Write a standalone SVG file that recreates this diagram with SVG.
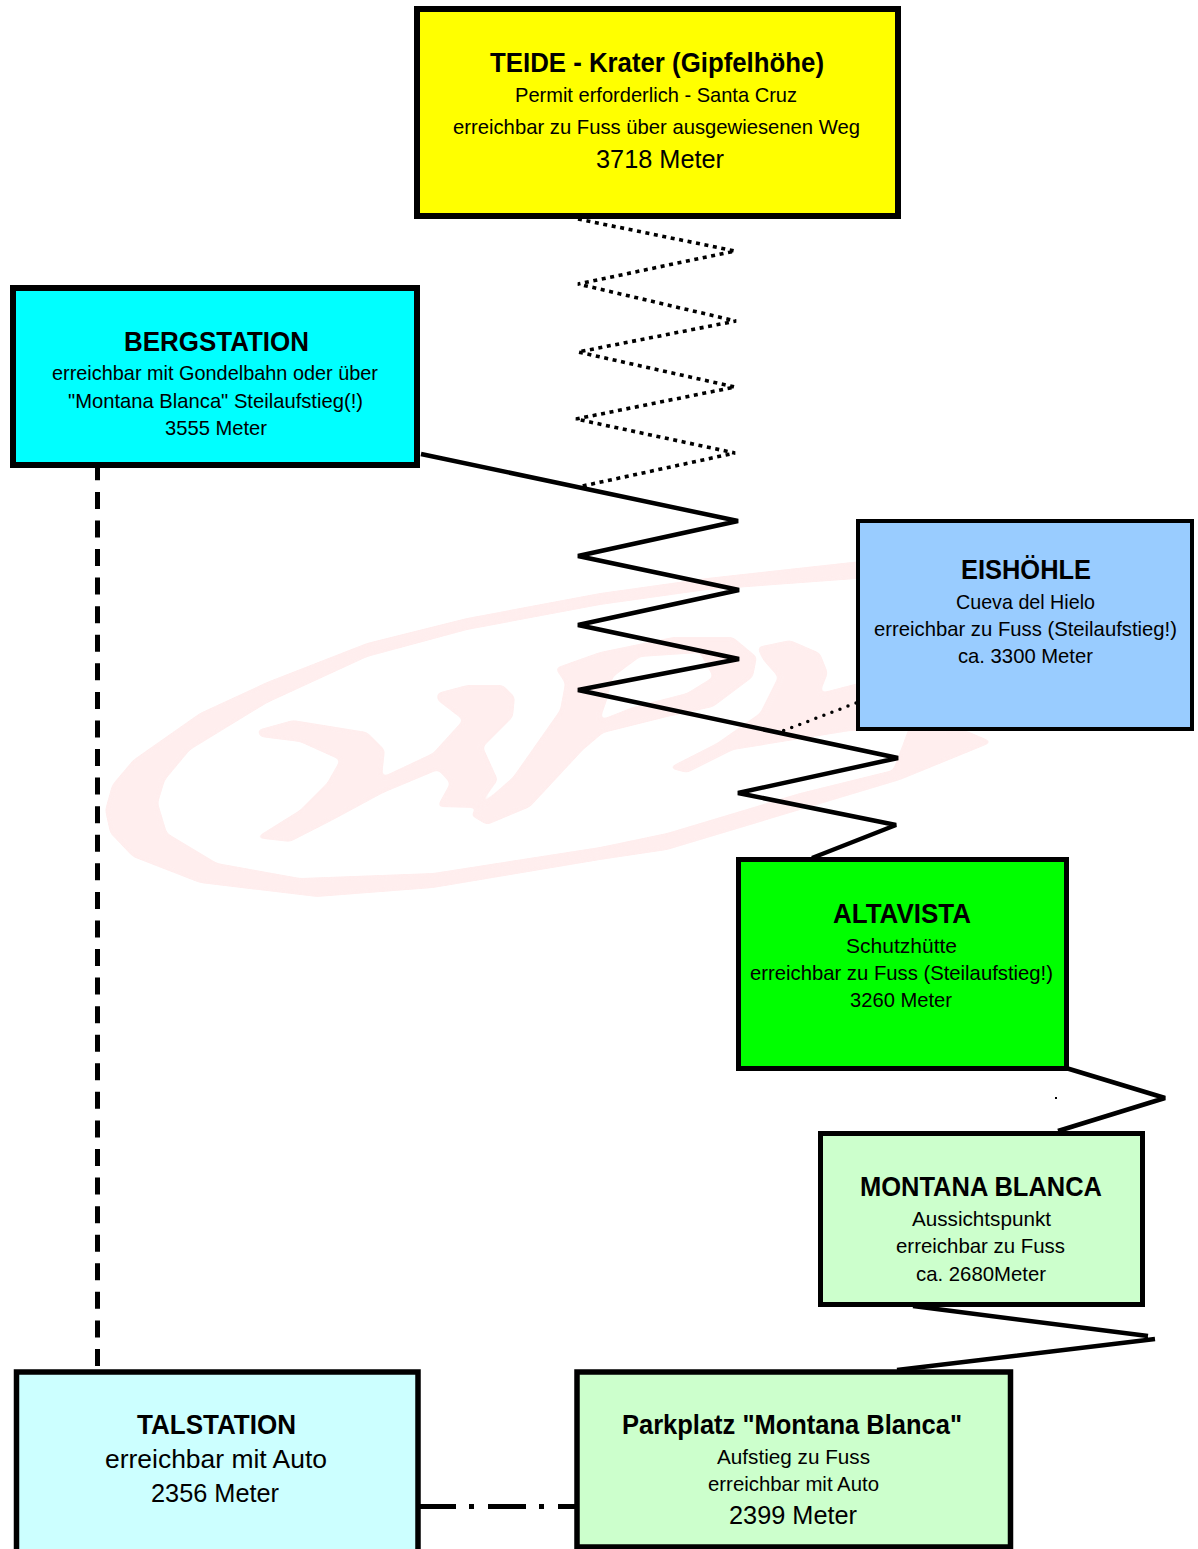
<svg xmlns="http://www.w3.org/2000/svg" width="1198" height="1549" viewBox="0 0 1198 1549">
<style>
text{font-family:"Liberation Sans",Arial,sans-serif;fill:#000}
.t{font-weight:bold;font-size:27px}
.s{font-size:21px}
.l{font-size:26px}
.box{stroke:#000}
.line{fill:none;stroke:#000;stroke-linejoin:bevel}
.wm{fill:#ffeeee}
</style>
<defs>
<filter id="smooth" x="0" y="0" width="1" height="1" color-interpolation-filters="sRGB">
<feGaussianBlur stdDeviation="2.5"/>
<feComponentTransfer><feFuncA type="linear" slope="8" intercept="-3.5"/></feComponentTransfer>
</filter>
</defs>
<rect width="1198" height="1549" fill="#fff"/>
<g id="watermark" filter="url(#smooth)">
<path class="wm" d="M105 810L112 785L133 760L200 713L267 682L367 643L467 618L600 593L707 578L870 560L870 578L707 590L600 605L467 630L367 657L267 703L190 750L165 780L158 803L167 833L217 863L300 878L433 873L600 847L667 833L800 793L893 770L910 725L967 731L993 742L900 780L800 810L667 850L600 860L433 888L317 897L200 883L133 857L110 833Z"/>
<path class="wm" d="M257 730L293 720L367 732L385 750L382 777L433 753L463 720L437 700L437 693L467 685L503 685L515 697L513 717L483 747L498 780L477 808L437 807L450 783L438 770L383 793L333 820L290 842L255 838L300 810L327 783L340 760L300 742L260 737Z"/>
<path class="wm" fill-rule="evenodd" d="M555 668L600 652L673 637L733 637L757 657L753 677L713 707L667 717L603 733L583 750L530 807L487 825L470 815L513 777L560 710L565 683ZM613 677L640 657L700 653L713 677L687 693L633 707L600 720L607 700Z"/>
<path class="wm" d="M757 647L790 640L820 653L828 673L820 693L870 680L870 731L850 731L733 750L687 773L668 768L717 743L760 713L778 677L763 660Z"/>
</g>
<g id="connectors">
<path class="line" stroke-width="3.6" stroke-dasharray="4 4.6" d="M578 219L735 251L578 284L736 321L578 352L735 387L576 419L735 453L578 487"/>
<path class="line" stroke-width="4.5" d="M421 454L738 521L578 556L739 590L578 625L739 659L578 690L898 758L738 793L896 825L812 858"/>
<path class="line" stroke-width="3.5" stroke-linecap="round" stroke-dasharray="0 8.6" d="M856 703L780 732"/>
<path class="line" stroke-width="4.5" d="M1066 1068L1165 1098L1058 1131"/>
<path class="line" stroke-width="2" d="M1055 1098h2"/>
<path class="line" stroke-width="4.5" d="M913 1306L1148 1336M1155 1339L897 1370"/>
<path class="line" stroke-width="5" stroke-dasharray="17 11.57" d="M97.5 1366V468"/>
<path class="line" stroke-width="5" stroke-dasharray="38 13 5 14" d="M418 1506.5H576"/>
</g>
<g id="teide">
<rect class="box" x="417" y="9" width="481" height="207" fill="#ffff00" stroke-width="6"/>
<text class="t" x="490" y="72" textLength="334" lengthAdjust="spacingAndGlyphs">TEIDE - Krater (Gipfelhöhe)</text>
<text class="s" x="515" y="102" textLength="282" lengthAdjust="spacingAndGlyphs">Permit erforderlich - Santa Cruz</text>
<text class="s" x="453" y="134" textLength="407" lengthAdjust="spacingAndGlyphs">erreichbar zu Fuss über ausgewiesenen Weg</text>
<text class="l" x="596" y="168" textLength="128" lengthAdjust="spacingAndGlyphs">3718 Meter</text>
</g>
<g id="bergstation">
<rect class="box" x="13" y="288" width="404" height="177" fill="#00ffff" stroke-width="6"/>
<text class="t" x="124" y="351" textLength="185" lengthAdjust="spacingAndGlyphs">BERGSTATION</text>
<text class="s" x="52" y="380" textLength="326" lengthAdjust="spacingAndGlyphs">erreichbar mit Gondelbahn oder über</text>
<text class="s" x="68" y="408" textLength="295" lengthAdjust="spacingAndGlyphs">"Montana Blanca" Steilaufstieg(!)</text>
<text class="s" x="165" y="435" textLength="102" lengthAdjust="spacingAndGlyphs">3555 Meter</text>
</g>
<g id="eishoehle">
<rect class="box" x="858" y="521" width="334" height="208" fill="#99ccff" stroke-width="4"/>
<text class="t" x="961" y="579" textLength="130" lengthAdjust="spacingAndGlyphs">EISHÖHLE</text>
<text class="s" x="956" y="609" textLength="139" lengthAdjust="spacingAndGlyphs">Cueva del Hielo</text>
<text class="s" x="874" y="636" textLength="303" lengthAdjust="spacingAndGlyphs">erreichbar zu Fuss (Steilaufstieg!)</text>
<text class="s" x="958" y="663" textLength="135" lengthAdjust="spacingAndGlyphs">ca. 3300 Meter</text>
</g>
<g id="altavista">
<rect class="box" x="738.5" y="859.5" width="328" height="209" fill="#00ff00" stroke-width="5"/>
<text class="t" x="833" y="923" textLength="138" lengthAdjust="spacingAndGlyphs">ALTAVISTA</text>
<text class="s" x="846" y="953" textLength="111" lengthAdjust="spacingAndGlyphs">Schutzhütte</text>
<text class="s" x="750" y="980" textLength="303" lengthAdjust="spacingAndGlyphs">erreichbar zu Fuss (Steilaufstieg!)</text>
<text class="s" x="850" y="1007" textLength="102" lengthAdjust="spacingAndGlyphs">3260 Meter</text>
</g>
<g id="montana-blanca">
<rect class="box" x="820.5" y="1133.5" width="322" height="171" fill="#ccffcc" stroke-width="5"/>
<text class="t" x="860" y="1196" textLength="242" lengthAdjust="spacingAndGlyphs">MONTANA BLANCA</text>
<text class="s" x="912" y="1226" textLength="139" lengthAdjust="spacingAndGlyphs">Aussichtspunkt</text>
<text class="s" x="896" y="1253" textLength="169" lengthAdjust="spacingAndGlyphs">erreichbar zu Fuss</text>
<text class="s" x="916" y="1281" textLength="130" lengthAdjust="spacingAndGlyphs">ca. 2680Meter</text>
</g>
<g id="talstation">
<rect class="box" x="16.5" y="1372" width="401.5" height="190" fill="#ccffff" stroke-width="5.5"/>
<text class="t" x="137" y="1434" textLength="159" lengthAdjust="spacingAndGlyphs">TALSTATION</text>
<text class="l" x="105" y="1468" textLength="222" lengthAdjust="spacingAndGlyphs">erreichbar mit Auto</text>
<text class="l" x="151" y="1502" textLength="128" lengthAdjust="spacingAndGlyphs">2356 Meter</text>
</g>
<g id="parkplatz">
<rect class="box" x="577" y="1372" width="433.5" height="175" fill="#ccffcc" stroke-width="5.5"/>
<text class="t" x="622" y="1434" textLength="340" lengthAdjust="spacingAndGlyphs">Parkplatz "Montana Blanca"</text>
<text class="s" x="717" y="1464" textLength="153" lengthAdjust="spacingAndGlyphs">Aufstieg zu Fuss</text>
<text class="s" x="708" y="1491" textLength="171" lengthAdjust="spacingAndGlyphs">erreichbar mit Auto</text>
<text class="l" x="729" y="1524" textLength="128" lengthAdjust="spacingAndGlyphs">2399 Meter</text>
</g>
</svg>
